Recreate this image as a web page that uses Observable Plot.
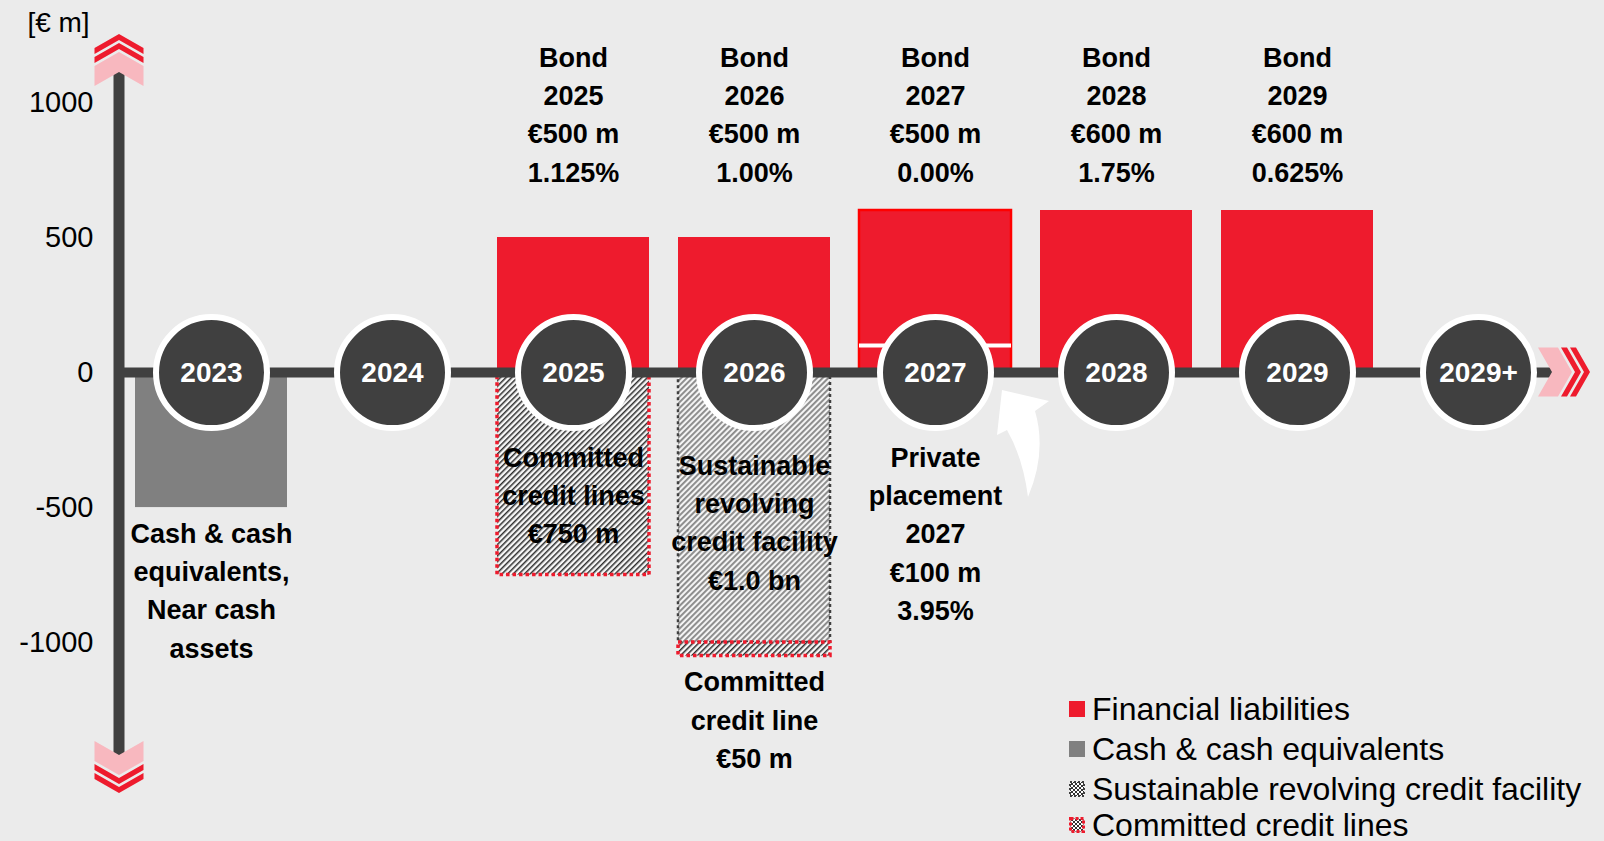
<!DOCTYPE html>
<html>
<head>
<meta charset="utf-8">
<script src="https://cdn.jsdelivr.net/npm/d3@7"></script>
<script src="https://cdn.jsdelivr.net/npm/@observablehq/plot@0.6"></script>
<style>
  html, body { margin: 0; padding: 0; background: #ebebeb; overflow: hidden; }
  #wrap { position: relative; width: 1604px; height: 841px; font-family: "Liberation Sans", Arial, sans-serif; }
  #chart svg { display: block; }
  .row { position: absolute; left: 1069px; height: 40px; display: flex; align-items: center; white-space: nowrap; font-size: 32px; line-height: 0.9; color: #000; }
  .row svg { margin-right: 7px; flex: none; }
</style>
</head>
<body>
<div id="wrap"><div id="chart"></div><div id="legend"></div></div>
<script>
// ---------- data (€ m) ----------
const years = ["2023", "2024", "2025", "2026", "2027", "2028", "2029", "2029+"];

// Financial liabilities (stacked per year)
const liabilityYears  = ["2025", "2026", "2027", "2027", "2028", "2029"];
const liabilityKinds  = ["Bond", "Bond", "Private placement", "Bond", "Bond", "Bond"];
const liabilityValues = [500, 500, 100, 500, 600, 600];

// Bond details shown above the bars
const bondYears   = ["2025", "2026", "2027", "2028", "2029"];
const bondAmounts = [500, 500, 500, 600, 600];
const bondCoupons = ["1.125%", "1.00%", "0.00%", "1.75%", "0.625%"];

// Liquidity (negative side, stacked per year)
const liquidityYears  = ["2023", "2025", "2026", "2026"];
const liquidityTypes  = ["cash", "committed", "rcf", "committed"];
const liquidityValues = [-500, -750, -1000, -50];

// Private placement
const ppYear = "2027", ppAmount = 100, ppCoupon = "3.95%";

const yTicks = [-1000, -500, 0, 500, 1000];
const yUnit = "[€ m]";
const legendLabels = ["Financial liabilities", "Cash & cash equivalents", "Sustainable revolving credit facility", "Committed credit lines"];

// ---------- colours ----------
const RED = "#ee1b2d", GRAY = "#808080", DARK = "#404040", PINK = "#f8b8bf";

// ---------- derived tables ----------
function stackRows(yrs, vals, extra) {
  const acc = new Map();
  return yrs.map((yr, i) => {
    const y1 = acc.get(yr) ?? 0;
    const y2 = y1 + vals[i];
    acc.set(yr, y2);
    return {year: yr, y1, y2, ...extra(i)};
  });
}
const liab = stackRows(liabilityYears, liabilityValues, i => ({kind: liabilityKinds[i]}));
const liq = stackRows(liquidityYears, liquidityValues, i => ({type: liquidityTypes[i]}));

const liabTop = d3.rollup(liab, v => d3.max(v, d => d.y2), d => d.year);
const liabCount = d3.rollup(liab, v => v.length, d => d.year);
const multiYears = [...liabCount].filter(([, n]) => n > 1).map(([yr]) => yr);
const borderRows = multiYears.map(yr => ({year: yr, top: liabTop.get(yr)}));
const separatorRows = liab.filter(d => d.y2 < liabTop.get(d.year) && liabCount.get(d.year) > 1).map(d => ({year: d.year, y: d.y2}));

const bondLabels = bondYears.map((yr, i) => ({year: yr, label: `Bond\n${yr}\n€${bondAmounts[i]} m\n${bondCoupons[i]}`}));

const cashRow = liq.find(d => d.type === "cash");
const ccl2025 = liq.find(d => d.type === "committed" && d.year === "2025");
const rcfRow = liq.find(d => d.type === "rcf");
const ccl2026 = liq.find(d => d.type === "committed" && d.year === "2026");

const labelsBelow = [
  {year: cashRow.year, y: cashRow.y2, text: "Cash & cash\nequivalents,\nNear cash\nassets"},
  {year: ccl2026.year, y: ccl2026.y2, text: `Committed\ncredit line\n€${-ccl2026.y2 + ccl2026.y1} m`}
];
const labelsInside = [
  {year: ccl2025.year, y: 0, text: `Committed\ncredit lines\n€${-ccl2025.y2} m`},
  {year: ppYear, y: 0, text: `Private\nplacement\n${ppYear}\n€${ppAmount} m\n${ppCoupon}`}
];
const labelsRcf = [
  {year: rcfRow.year, y: 0, text: `Sustainable\nrevolving\ncredit facility\n€${(-rcfRow.y2 / 1000).toFixed(1)} bn`}
];

// ---------- custom SVG pieces ----------
function defsMark() {
  const g = d3.create("svg:defs");
  g.html(`
    <pattern id="hatchDark" patternUnits="userSpaceOnUse" width="4" height="4" patternTransform="rotate(45)">
      <rect width="4" height="4" fill="#f7f7f7"></rect>
      <rect width="1.5" height="4" fill="#2e2e2e"></rect>
    </pattern>
    <pattern id="hatchLight" patternUnits="userSpaceOnUse" width="4" height="4" patternTransform="rotate(45)">
      <rect width="4" height="4" fill="#f4f4f4"></rect>
      <rect width="1.9" height="4" fill="#8a8a8a"></rect>
    </pattern>
    <pattern id="checker" patternUnits="userSpaceOnUse" width="4" height="4">
      <rect width="4" height="4" fill="#ffffff"></rect>
      <rect width="2" height="2" fill="#333"></rect>
      <rect x="2" y="2" width="2" height="2" fill="#333"></rect>
    </pattern>`);
  return g.node();
}

function chevron(ox, oy, dx, dy, apex, t, s, w) {
  const px = -dy, py = dx;
  const P = (u, v) => [ox + dx * u + px * v, oy + dy * u + py * v];
  const pts = [P(apex - s, -w), P(apex, 0), P(apex - s, w), P(apex - s - t, w), P(apex - t, 0), P(apex - s - t, -w)];
  return "M" + pts.map(p => p.map(v => v.toFixed(1)).join(",")).join("L") + "Z";
}

function arrowGroup(g, ox, oy, dx, dy) {
  const w = 24.5, s = 14;
  g.append("path").attr("d", chevron(ox, oy, dx, dy, 20, 20, s, w)).attr("fill", PINK);
  g.append("path").attr("d", chevron(ox, oy, dx, dy, 29, 6, s, w)).attr("fill", RED);
  g.append("path").attr("d", chevron(ox, oy, dx, dy, 38, 6, s, w)).attr("fill", RED);
}

function axisDecor(index, scales, values, dims) {
  const g = d3.create("svg:g");
  const ax = dims.marginLeft;
  const top = dims.marginTop, bottom = dims.height - dims.marginBottom;
  const y0 = scales.y(0);
  const xEnd = dims.width - dims.marginRight - 19;
  g.append("line").attr("x1", ax).attr("x2", ax).attr("y1", top).attr("y2", bottom)
    .attr("stroke", DARK).attr("stroke-width", 11);
  arrowGroup(g, ax, top, 0, -1);
  arrowGroup(g, ax, bottom, 0, 1);
  arrowGroup(g, xEnd, y0, 1, 0);
  return g.node();
}

function ppArrow(index, scales, values, dims) {
  const bw = scales.x.bandwidth ? scales.x.bandwidth() : 0;
  const cx = scales.x(ppYear) + bw / 2, cy = scales.y(0);
  const g = d3.create("svg:g").attr("transform", `translate(${cx},${cy})`);
  g.append("path")
    .attr("d", "M67,18 L114,29 L100,39 Q112,80 93,125 Q88,86 72,58 L62,63 Z")
    .attr("fill", "white");
  return g.node();
}

// ---------- plot ----------
const font = "'Liberation Sans', Arial, sans-serif";
const LH = 1.42;
const chart = Plot.plot({
  width: 1604,
  height: 841,
  marginLeft: 119,
  marginRight: 33,
  marginTop: 72,
  marginBottom: 86,
  x: {domain: years, paddingInner: 0.16, paddingOuter: 0.08, axis: null},
  y: {domain: [-1418, 1111]},
  style: {background: "#ebebeb", fontFamily: font, color: "#000", overflow: "visible"},
  marks: [
    defsMark,
    Plot.axisY({ticks: yTicks, tickSize: 0, tickPadding: 26, fontSize: 29, tickFormat: d => String(d), label: null}),
    Plot.text([yUnit], {text: d => d, frameAnchor: "top-left", textAnchor: "middle", lineAnchor: "middle", dx: -61, dy: -49, fontSize: 28}),
    // liquidity (negative side)
    Plot.barY(liq.filter(d => d.type === "cash"), {x: "year", y1: "y1", y2: "y2", fill: GRAY}),
    Plot.barY(liq.filter(d => d.type === "rcf"), {x: "year", y1: "y1", y2: "y2", fill: "url(#hatchLight)", stroke: DARK, strokeWidth: 2.5, strokeDasharray: "3,3"}),
    Plot.barY(liq.filter(d => d.type === "committed"), {x: "year", y1: "y1", y2: "y2", fill: "url(#hatchDark)", stroke: RED, strokeWidth: 3.5, strokeDasharray: "3.5,3"}),
    // financial liabilities
    Plot.barY(liab, {x: "year", y1: "y1", y2: "y2", fill: RED}),
    Plot.barY(borderRows, {x: "year", y1: 0, y2: "top", fill: "none", stroke: "#ff0000", strokeWidth: 2.5}),
    Plot.tickY(separatorRows, {x: "year", y: "y", stroke: "white", strokeWidth: 4}),
    // timeline
    Plot.ruleY([0], {stroke: DARK, strokeWidth: 10, insetRight: 19}),
    axisDecor,
    Plot.dot(years, {x: d => d, y: 0, r: 55.5, fill: DARK, stroke: "white", strokeWidth: 6}),
    Plot.text(years, {x: d => d, y: 0, text: d => d, fill: "white", fontSize: 28, fontWeight: "bold"}),
    // labels
    Plot.text(bondLabels, {x: "year", text: "label", frameAnchor: "top", lineAnchor: "top", dy: -33, fontSize: 27, fontWeight: "bold", lineHeight: LH}),
    Plot.text(labelsBelow, {x: "year", y: "y", text: "text", lineAnchor: "top", dy: 8, fontSize: 27, fontWeight: "bold", lineHeight: LH}),
    Plot.text(labelsInside, {x: "year", y: "y", text: "text", lineAnchor: "top", dy: 67, fontSize: 27, fontWeight: "bold", lineHeight: LH}),
    Plot.text(labelsRcf, {x: "year", y: "y", text: "text", lineAnchor: "top", dy: 75, fontSize: 27, fontWeight: "bold", lineHeight: LH}),
    ppArrow
  ]
});
document.getElementById("chart").append(chart);

// ---------- legend ----------
const swatches = [
  `<rect x="0" y="0" width="16" height="16" fill="${RED}"></rect>`,
  `<rect x="0" y="0" width="16" height="16" fill="${GRAY}"></rect>`,
  `<rect x="1" y="1" width="14" height="14" fill="url(#checker)" stroke="${DARK}" stroke-width="2" stroke-dasharray="2,2"></rect>`,
  `<rect x="1.5" y="1.5" width="13" height="13" fill="url(#checker)" stroke="${RED}" stroke-width="3" stroke-dasharray="3,2"></rect>`
];
const rowTops = [689, 729, 769, 805];
const legend = document.getElementById("legend");
legendLabels.forEach((lab, i) => {
  const row = document.createElement("div");
  row.className = "row";
  row.style.top = rowTops[i] + "px";
  row.innerHTML = `<svg width="16" height="16" viewBox="0 0 16 16">${swatches[i]}</svg><span>${lab.replace(/&/g, "&amp;")}</span>`;
  legend.append(row);
});
</script>
</body>
</html>
